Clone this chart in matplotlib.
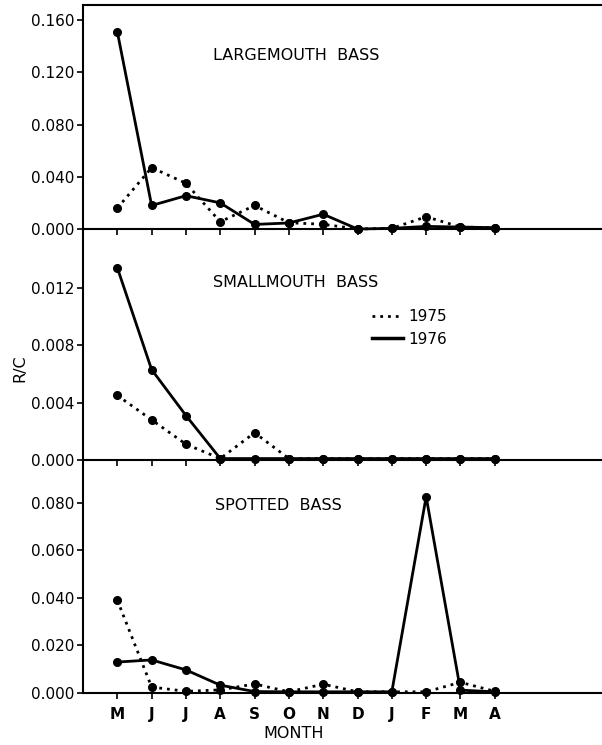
import matplotlib
matplotlib.use("Agg")
import matplotlib.pyplot as plt
import numpy as np

months = ['M', 'J', 'J', 'A', 'S', 'O', 'N', 'D', 'J', 'F', 'M', 'A']

lm_1975 = [0.016, 0.047, 0.035, 0.0055, 0.018, 0.0048, 0.0036, 0.0, 0.0005, 0.0094, 0.0015, 0.001]
lm_1976 = [0.151, 0.018, 0.0255, 0.020, 0.0035, 0.0046, 0.0113, 0.0, 0.0005, 0.002, 0.0015, 0.001]

sm_1975 = [0.0045, 0.0028, 0.0011, 0.0001, 0.0019, 0.0001, 0.0001, 0.0001, 0.0001, 0.0001, 0.0001, 0.0001]
sm_1976 = [0.0134, 0.0063, 0.0031, 0.0001, 0.0001, 0.0001, 0.0001, 0.0001, 0.0001, 0.0001, 0.0001, 0.0001]

sp_1975 = [0.039, 0.0025, 0.0007, 0.0013, 0.0038, 0.0005, 0.0037, 0.0005, 0.0005, 0.0005, 0.0045, 0.0007]
sp_1976 = [0.013, 0.0139, 0.0097, 0.0033, 0.0006, 0.0005, 0.0005, 0.0005, 0.0005, 0.0825, 0.0012, 0.0005]

titles = ['LARGEMOUTH  BASS', 'SMALLMOUTH  BASS', 'SPOTTED  BASS']
yticks_list = [[0.0, 0.040, 0.080, 0.120, 0.160],
               [0.0, 0.004, 0.008, 0.012],
               [0.0, 0.020, 0.040, 0.060, 0.080]]
ytick_labels = [['0.000', '0.040', '0.080', '0.120', '0.160'],
                ['0.000', '0.004', '0.008', '0.012'],
                ['0.000', '0.020', '0.040', '0.060', '0.080']]
ylims = [0.1715, 0.0161, 0.0979]
series = [(lm_1975, lm_1976), (sm_1975, sm_1976), (sp_1975, sp_1976)]

W, H = 602, 745
fig = plt.figure(figsize=(W / 100, H / 100), dpi=100)
plt.rcParams['font.family'] = ['DejaVu Sans']

# panel pixel extents (top, bottom)
panels_px = [(5, 229), (229, 460), (460, 693)]
left_px = 83
x = np.arange(len(months))

axes = []
for i, (t, b) in enumerate(panels_px):
    ax = fig.add_axes([left_px / W, 1 - b / H, (W - left_px) / W + 0.01, (b - t) / H])
    ax.patch.set_visible(False)
    ax.set_zorder(10 - i)
    axes.append(ax)
    s75, s76 = series[i]
    ax.plot(x, s75, linestyle=(0, (1, 1.8)), color='black', lw=2.0,
            marker='o', ms=5.5, mfc='black', mec='black', clip_on=False, zorder=3)
    ax.plot(x, s76, linestyle='-', color='black', lw=2.0,
            marker='o', ms=5.5, mfc='black', mec='black', clip_on=False, zorder=3)
    ax.set_xlim(-1.0, 14.3)
    ax.set_ylim(0, ylims[i])
    ax.set_yticks(yticks_list[i])
    ax.set_yticklabels(ytick_labels[i], fontsize=11)
    ax.set_xticks(x)
    if i == 2:
        ax.set_xticklabels(months, fontsize=11, fontweight='bold')
    else:
        ax.set_xticklabels([])
    ax.tick_params(axis='both', direction='out', length=4, width=1.2, pad=2, color='black')
    ax.tick_params(axis='x', pad=6)
    for sp in ['left', 'bottom', 'top']:
        ax.spines[sp].set_linewidth(1.5)
    ax.spines['right'].set_visible(False)
    if i > 0:
        ax.spines['top'].set_visible(False)

title_px = [(213, 56), (213, 282), (215, 506)]
for (tx, ty), txt in zip(title_px, titles):
    fig.text(tx / W, 1 - ty / H, txt, fontsize=11.5, ha='left', va='center')

# legend in the middle panel
h1, = axes[1].plot([], [], linestyle=(0, (1, 1.8)), color='black', lw=2.0)
h2, = axes[1].plot([], [], linestyle='-', color='black', lw=2.5)
axes[1].legend([h1, h2], ['1975', '1976'], loc='upper left',
               bbox_to_anchor=(372 / W, 1 - 309 / H), bbox_transform=fig.transFigure,
               frameon=False, fontsize=11, handlelength=2.0, handletextpad=0.4,
               labelspacing=0.5, borderpad=0, borderaxespad=0)

fig.text(20 / W, 1 - 368 / H, 'R/C', rotation=90, fontsize=11.5, ha='center', va='center')
fig.text(294 / W, 1 - 734 / H, 'MONTH', fontsize=11.5, ha='center', va='center')

fig.savefig('out.png', dpi=100)
